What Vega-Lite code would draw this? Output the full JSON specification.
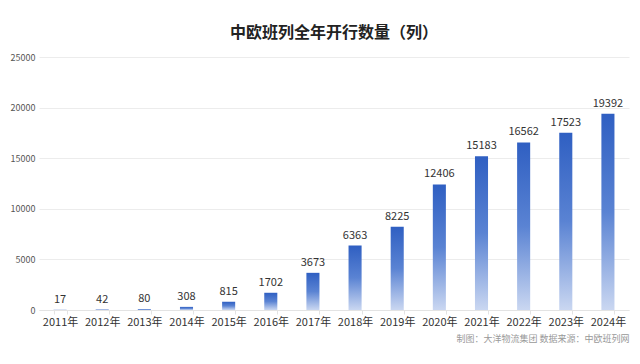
{
  "$schema": "https://vega.github.io/schema/vega-lite/v6.json",
  "autosize": {"type": "none"},
  "width": 590,
  "height": 253,
  "padding": {"left": 39, "top": 57, "right": 11, "bottom": 54},
  "background": "white",
  "config": {
    "font": "Noto Sans CJK SC",
    "view": {"stroke": null}
  },
  "title": {
    "text": "中欧班列全年开行数量（列）",
    "fontSize": 16,
    "fontWeight": "bold",
    "color": "#222222",
    "anchor": "middle",
    "frame": "group",
    "offset": 12
  },
  "data": {
    "values": [
      {"year": "2011年", "trains": 17},
      {"year": "2012年", "trains": 42},
      {"year": "2013年", "trains": 80},
      {"year": "2014年", "trains": 308},
      {"year": "2015年", "trains": 815},
      {"year": "2016年", "trains": 1702},
      {"year": "2017年", "trains": 3673},
      {"year": "2018年", "trains": 6363},
      {"year": "2019年", "trains": 8225},
      {"year": "2020年", "trains": 12406},
      {"year": "2021年", "trains": 15183},
      {"year": "2022年", "trains": 16562},
      {"year": "2023年", "trains": 17523},
      {"year": "2024年", "trains": 19392}
    ]
  },
  "encoding": {
    "x": {
      "field": "year",
      "type": "nominal",
      "sort": null,
      "scale": {"paddingInner": 0.69, "paddingOuter": 0.345},
      "axis": {
        "title": "制图：大洋物流集团  数据来源：中欧班列网",
        "titleFontSize": 9,
        "titleFontWeight": "normal",
        "titleColor": "#999999",
        "titleAnchor": "end",
        "titlePadding": 7,
        "labelAngle": 0,
        "labelFontSize": 11,
        "labelColor": "#333333",
        "labelPadding": 2,
        "domainColor": "#e3e3e3",
        "tickColor": "#e3e3e3",
        "tickSize": 4,
        "tickBand": "extent"
      }
    },
    "y": {
      "field": "trains",
      "type": "quantitative",
      "scale": {"domain": [0, 25000]},
      "axis": {
        "title": null,
        "values": [0, 5000, 10000, 15000, 20000, 25000],
        "format": "d",
        "labelFontSize": 9,
        "labelColor": "#555555",
        "labelPadding": 4,
        "domain": false,
        "ticks": false,
        "gridColor": "#ececec"
      }
    }
  },
  "layer": [
    {
      "mark": {
        "type": "bar",
        "color": {
          "gradient": "linear",
          "x1": 0, "y1": 0, "x2": 0, "y2": 1,
          "stops": [
            {"offset": 0, "color": "#2f5fc2"},
            {"offset": 0.5, "color": "#5a83d3"},
            {"offset": 1, "color": "#cad7f1"}
          ]
        }
      }
    },
    {
      "mark": {"type": "text", "baseline": "bottom", "dy": -5, "fontSize": 11, "color": "#333333"},
      "encoding": {"text": {"field": "trains", "type": "quantitative", "format": "d"}}
    }
  ]
}
